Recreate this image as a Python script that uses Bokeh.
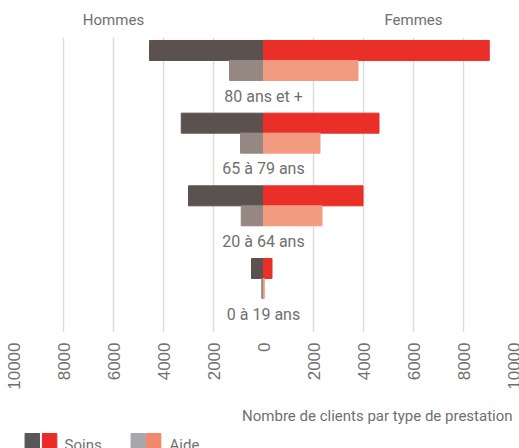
from bokeh.plotting import figure
from bokeh.models import Range1d, LinearAxis, FixedTicker, ColumnDataSource
from bokeh.layouts import column
from bokeh.embed import file_html
from bokeh.resources import INLINE
from bokeh.core.properties import value
import numpy as np

# ---- data ----
categories = ["0 à 19 ans", "20 à 64 ans", "65 à 79 ans", "80 ans et +"]
hommes_soins = [480, 3000, 3290, 4560]
femmes_soins = [340, 3980, 4620, 9030]
hommes_aide = [70, 890, 920, 1360]
femmes_aide = [30, 2340, 2260, 3780]
tick_values = [-10000, -8000, -6000, -4000, -2000, 0, 2000, 4000, 6000, 8000, 10000]
tick_labels = ["10000", "8000", "6000", "4000", "2000", "0", "2000", "4000", "6000", "8000", "10000"]
header_values = [-6000, 6000]
header_labels = ["Hommes", "Femmes"]
legend_labels = ["Soins", "Aide"]
axis_title = "Nombre de clients par type de prestation"

# ---- style ----
FONT = "Roboto"
TXT = "#6f6f6f"
C_HS, C_FS = "#5b514e", "#ea2e28"
C_HA, C_FA = "#958782", "#f39b80"
L_S = ["#58585a", "#ea2b27"]
L_A = ["#a7a7a9", "#f0896c"]
BAR_H = 0.275

idx = np.arange(len(categories))
src = ColumnDataSource(dict(
    y_s=idx + BAR_H / 2, y_a=idx - BAR_H / 2, y_t=idx - 0.49,
    hs=[-v for v in hommes_soins], fs=femmes_soins,
    ha=[-v for v in hommes_aide], fa=femmes_aide,
    cat=categories,
))

p = figure(width=519, height=395, x_range=Range1d(-10000, 10000),
           y_range=Range1d(-0.743, 3.316), output_backend="svg",
           toolbar_location=None, y_axis_location=None,
           min_border_left=13, min_border_right=6, min_border_top=37,
           min_border_bottom=63)
p.outline_line_color = None
p.ygrid.visible = False
p.xgrid.ticker = FixedTicker(ticks=[t for t in tick_values if t != 0])
p.xgrid.grid_line_color = "#dcdcdc"
p.xgrid.grid_line_width = 1.5

ax = p.xaxis[0]
ax.ticker = FixedTicker(ticks=tick_values)
ax.major_label_overrides = {v: s for v, s in zip(tick_values, tick_labels)}
ax.major_label_orientation = np.pi / 2
ax.axis_line_color = None
ax.major_tick_line_color = None
ax.minor_tick_line_color = None
ax.major_label_standoff = 4
ax.major_label_text_font = "Liberation Sans"
ax.major_label_text_font_size = "17px"
ax.major_label_text_color = TXT

top = LinearAxis(ticker=FixedTicker(ticks=header_values),
                 major_label_overrides={v: s for v, s in zip(header_values, header_labels)})
top.axis_line_color = None
top.major_tick_line_color = None
top.minor_tick_line_color = None
top.major_label_standoff = 3
top.major_label_text_font = FONT
top.major_label_text_font_size = "15px"
top.major_label_text_color = TXT
p.add_layout(top, "above")

p.hbar(y="y_s", height=BAR_H, left="hs", right=0, color=C_HS, source=src)
p.hbar(y="y_s", height=BAR_H, left=0, right="fs", color=C_FS, source=src)
p.hbar(y="y_a", height=BAR_H, left="ha", right=0, color=C_HA, source=src)
p.hbar(y="y_a", height=BAR_H, left=0, right="fa", color=C_FA, source=src)
p.text(x=0, y="y_t", text="cat", source=src, text_align="center", text_baseline="alphabetic",
       text_font=value(FONT), text_font_size="16px", text_color=TXT)

# ---- legend / axis title strip ----
lf = figure(width=519, height=53, x_range=Range1d(0, 519), y_range=Range1d(0, 53),
            output_backend="svg", toolbar_location=None, min_border=0,
            x_axis_location=None, y_axis_location=None)
lf.outline_line_color = None
lf.xgrid.visible = False
lf.ygrid.visible = False
sw_left = [12, 30, 122, 138]
lf.quad(left=sw_left, right=[v + 15 for v in sw_left], bottom=0, top=15,
        color=L_S + L_A)
lf.text(x=[53, 162], y=[4, 4], text=legend_labels, text_baseline="alphabetic",
        text_font=value(FONT), text_font_size="15px", text_color=TXT)
lf.text(x=[518], y=[33], text=[axis_title], text_align="right", text_baseline="alphabetic",
        text_font=value(FONT), text_font_size="15px", text_color=TXT)

layout = column(p, lf)
open("out.html", "w").write(file_html(layout, INLINE))
